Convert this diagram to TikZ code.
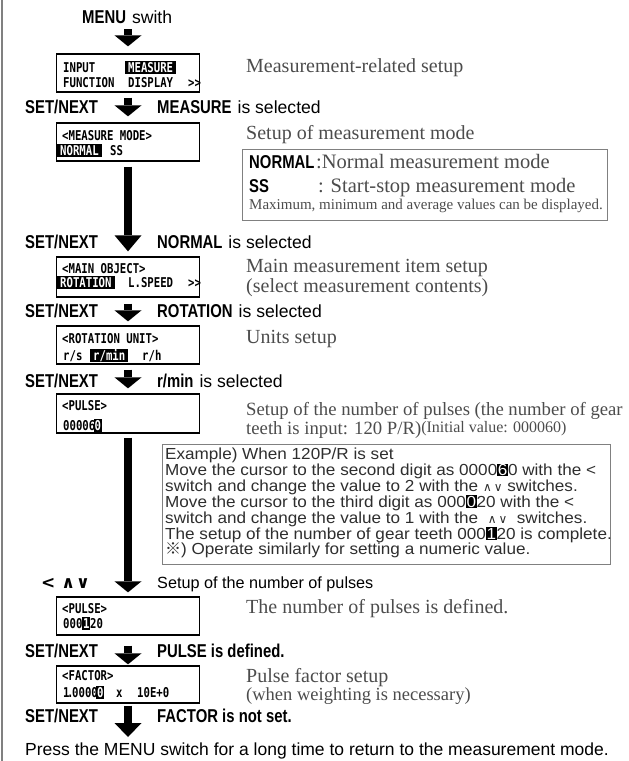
\documentclass[tikz,border=0pt]{standalone}
\usepackage{fontspec}
\setmainfont{Liberation Serif}
\newfontfamily\labelfont[FakeStretch=0.8]{Liberation Sans}
\newfontfamily\gothicfont{Liberation Sans}
\newfontfamily\examplefont[FakeStretch=1.07]{Liberation Sans}
\newfontfamily\lcdfont[FakeStretch=0.79]{DejaVu Sans Mono}
\newfontfamily\symbolfont{DejaVu Sans}
\newfontfamily\cjkfont{Noto Sans CJK JP}
\usetikzlibrary{arrows.meta}

\definecolor{desctext}{gray}{0.3}
\definecolor{framegray}{gray}{0.5}
\definecolor{extext}{gray}{0.18}

% font helpers
\newcommand{\keyfnt}{\labelfont\bfseries\fontsize{18.6}{20}\selectfont}
\newcommand{\gothfnt}[1]{\gothicfont\fontsize{#1}{#1}\selectfont}
\newcommand{\serfnt}[1]{\rmfamily\fontsize{#1}{#1}\selectfont}
\newcommand{\exhl}[1]{{\setlength{\fboxsep}{0.6pt}\colorbox{black}{\textcolor{white}{#1}}}}
\newcommand{\updown}{{\symbolfont\fontsize{12}{12}\selectfont ∧\,∨}}

\begin{document}
\begin{tikzpicture}[x=1pt,y=-1pt,
  txt/.style={inner sep=0pt, anchor=base west},
  desc/.style={txt, text=desctext, font=\serfnt{20}},
  lcdbox/.style={draw, line width=1.3pt, minimum width=143pt, minimum height=38pt, inner sep=0pt},
  lcd/.style={txt, font=\lcdfont\bfseries\fontsize{13.5}{14}\selectfont},
  hl/.style={lcd, fill=black, text=white, inner xsep=3pt, inner ysep=1.5pt, text height=9.8pt, text depth=0.6pt},
  hlch/.style={hl, inner xsep=0.8pt},
  flow/.style={line width=8pt, -{Triangle[width=27pt,length=#1,line width=0pt]}},
  flow/.default=11pt,
  panel/.style={draw=framegray, inner sep=0pt, anchor=north west},
  exline/.style={txt, text=extext, font=\examplefont\fontsize{16}{16}\selectfont}
]
\useasboundingbox (0,0) rectangle (629,761);

% page rule on the left
\draw[framegray, line width=2pt] (1.5,0) -- (1.5,761);

% ---------- display screens ----------
\node[lcdbox] (b1) at (128,73) {};
\node[lcdbox] (b2) at (128,142) {};
\node[lcdbox, minimum height=40pt] (b3) at (128,277) {};
\node[lcdbox] (b4) at (128,345) {};
\node[lcdbox, minimum height=39pt] (b5) at (128,413.5) {};
\node[lcdbox] (b6) at (128,616) {};
\node[lcdbox, minimum height=37pt] (b7) at (128,684.5) {};

% screen 1
\node[lcd] (b1a) at (63,72) {INPUT};
\node[hl]  (b1b) at (125,72) {MEASURE};
\node[lcd] (b1c) at (63,87) {FUNCTION};
\node[lcd] (b1d) at (128,87) {DISPLAY};
\node[lcd] (b1e) at (188,87) {>>};
% screen 2
\node[lcd] (b2a) at (62,140) {<MEASURE MODE>};
\node[hl]  (b2b) at (57,155) {NORMAL};
\node[lcd] (b2c) at (110,155) {SS};
% screen 3
\node[lcd] (b3a) at (62,273) {<MAIN OBJECT>};
\node[hl]  (b3b) at (57,287) {ROTATION};
\node[lcd] (b3c) at (128,287) {L.SPEED};
\node[lcd] (b3d) at (188,287) {>>};
% screen 4
\node[lcd] (b4a) at (62,343) {<ROTATION UNIT>};
\node[lcd] (b4b) at (63,360) {r/s};
\node[hl]  (b4c) at (90,360) {r/min};
\node[lcd] (b4d) at (142,360) {r/h};
% screen 5
\node[lcd]  (b5a) at (62,410) {<PULSE>};
\node[lcd]  (b5b) at (63,430) {00006};
\node[hlch] (b5c) at (93.5,430) {0};
% screen 6
\node[lcd]  (b6a) at (62,613) {<PULSE>};
\node[lcd]  (b6b) at (63,628) {000};
\node[hlch] (b6c) at (82,628) {1};
\node[lcd]  (b6d) at (90,628) {20};
% screen 7
\node[lcd]  (b7a) at (62,680) {<FACTOR>};
\node[lcd]  (b7b) at (63,697) {1};
\node[lcd]  (b7c) at (67,697) {.};
\node[lcd]  (b7d) at (72,697) {0000};
\node[hlch] (b7e) at (96,697) {0};
\node[lcd]  (b7f) at (116,697) {x};
\node[lcd]  (b7g) at (137,697) {10E+0};

% ---------- key labels ----------
\node[txt] (menu) at (82,23) {{\keyfnt MENU}\hspace{6pt}{\gothfnt{17.6}swith}};

\node[txt, font=\keyfnt] (s1) at (25,113) {SET/NEXT};
\node[txt] (k1) at (157,113) {{\keyfnt MEASURE}\hspace{6pt}{\gothfnt{17.6}is selected}};
\node[txt, font=\keyfnt] (s2) at (25,248) {SET/NEXT};
\node[txt] (k2) at (157,248) {{\keyfnt NORMAL}\hspace{6pt}{\gothfnt{17.6}is selected}};
\node[txt, font=\keyfnt] (s3) at (25,317) {SET/NEXT};
\node[txt] (k3) at (157,317) {{\keyfnt ROTATION}\hspace{6pt}{\gothfnt{17.6}is selected}};
\node[txt, font=\keyfnt] (s4) at (25,387) {SET/NEXT};
\node[txt] (k4) at (157,387) {{\keyfnt r/min}\hspace{6pt}{\gothfnt{17.6}is selected}};
\node[txt, font=\symbolfont\bfseries\fontsize{17}{17}\selectfont] (keys) at (41,588) {<\hspace{6pt}∧\hspace{1pt}∨};
\node[txt, font=\gothfnt{16.2}] (k5) at (157,588) {Setup of the number of pulses};
\node[txt, font=\keyfnt] (s6) at (25,657) {SET/NEXT};
\node[txt, font=\keyfnt] (k6) at (157,657) {PULSE is defined.};
\node[txt, font=\keyfnt] (s7) at (25,722) {SET/NEXT};
\node[txt, font=\keyfnt] (k7) at (157,722) {FACTOR is not set.};

\node[txt, font=\gothfnt{17.5}] (note) at (25,755) {Press the MENU switch for a long time to return to the measurement mode.};

% ---------- descriptions ----------
\node[desc] (d1) at (246,72) {Measurement-related setup};
\node[desc] (d2) at (246,139) {Setup of measurement mode};
\node[desc] (d3a) at (246,272) {Main measurement item setup};
\node[desc] (d3b) at (246,292) {(select measurement contents)};
\node[desc] (d4) at (246,343) {Units setup};
\node[desc, font=\serfnt{18.7}] (d5a) at (246,415) {Setup of the number of pulses (the number of gear};
\node[desc, font=\serfnt{18.7}] (d5b) at (246,434.5) {teeth is input: 120 P/R)\raisebox{2.5pt}{\serfnt{16}(Initial value: 000060)}};
\node[desc] (d6) at (246,613) {The number of pulses is defined.};
\node[desc] (d7a) at (246,682) {Pulse factor setup};
\node[desc, font=\serfnt{18.5}] (d7b) at (246,700) {(when weighting is necessary)};

% ---------- measurement mode panel ----------
\node[panel, line width=1.3pt, minimum width=365pt, minimum height=71pt] (mode) at (241.6,148.6) {};
\node[txt, font=\keyfnt] (m1) at (249,168) {NORMAL};
\node[desc, font=\serfnt{20.5}] (m1t) at (316,168) {:Normal measurement mode};
\node[txt, font=\keyfnt] (m2) at (249,192) {SS};
\node[desc, font=\serfnt{20.5}] (m2t) at (318,192) {: Start-stop measurement mode};
\node[desc, font=\serfnt{15}] (m3) at (249,209) {Maximum, minimum and average values can be displayed.};

% ---------- worked example panel ----------
\node[panel, line width=1pt, minimum width=448pt, minimum height=120pt] (ex) at (161.5,443.5) {};
\node[exline] (ex1) at (165,459.5) {Example) When 120P/R is set};
\node[exline] (ex2) at (165,475.4) {Move the cursor to the second digit as 0000\exhl{6}0 with the <};
\node[exline] (ex3) at (165,491.3) {switch and change the value to 2 with the \updown{} switches.};
\node[exline] (ex4) at (165,507.2) {Move the cursor to the third digit as 000\exhl{0}20 with the <};
\node[exline] (ex5) at (165,523.1) {switch and change the value to 1 with the \ \updown\ \ switches.};
\node[exline] (ex6) at (165,539) {The setup of the number of gear teeth 000\exhl{1}20 is complete.};
\node[exline] (ex7) at (165,554.9) {{\cjkfont ※}) Operate similarly for setting a numeric value.};

% ---------- flow arrows ----------
\coordinate (tail) at (128,737);
\draw[flow, shorten <=6pt, shorten >=7pt] (menu.south -| b1.north) -- (b1.north);
\draw[flow, shorten <=5pt, shorten >=6pt] (b1.south) -- (b2.north);
\draw[flow=16pt, shorten <=5pt, shorten >=5pt] (b2.south) -- (b3.north);
\draw[flow, shorten <=6pt, shorten >=4pt] (b3.south) -- (b4.north);
\draw[flow, shorten <=5pt, shorten >=5pt] (b4.south) -- (b5.north);
\draw[flow, shorten <=4pt, shorten >=4pt] (b5.south) -- (b6.north);
\draw[flow, shorten <=10pt, shorten >=1pt] (b6.south) -- (b7.north);
\draw[flow=14pt, shorten <=2pt] (b7.south) -- (tail);
\end{tikzpicture}
\end{document}
